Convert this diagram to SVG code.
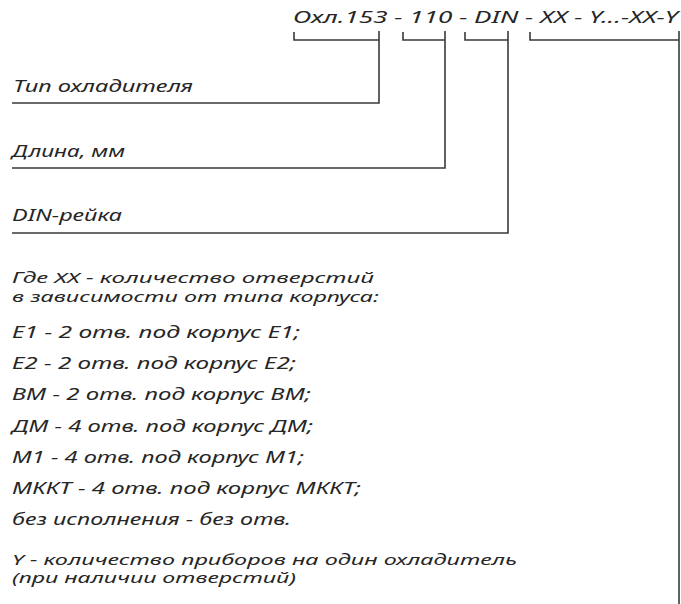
<svg xmlns="http://www.w3.org/2000/svg" width="681" height="604" viewBox="0 0 681 604">
<style>
text{font-family:"Noto Sans","Liberation Sans",Arial,sans-serif;font-style:italic;font-size:16.5px;fill:#262626}
.sm{font-size:15px}
.ln{fill:none;stroke:#3a3a3a;stroke-width:1.6}
</style>
<rect width="681" height="604" fill="#fff"/>
<g id="code"><text x="293" y="23" textLength="385" lengthAdjust="spacingAndGlyphs">Охл.153 - 110 -  DIN - XX - Y...-XX-Y</text></g>
<g id="connectors">
<path class="ln" d="M294,32V40H379M379,31V103H12"/>
<path class="ln" d="M403,32V40H445M445,31V168H12"/>
<path class="ln" d="M465,32V40H508M508,31V233H12"/>
<path class="ln" d="M530,32V40H679M679,31V604"/>
</g>
<g id="type"><text x="13" y="92" textLength="180" lengthAdjust="spacingAndGlyphs">Тип охладителя</text></g>
<g id="length"><text x="12" y="157" textLength="113" lengthAdjust="spacingAndGlyphs">Длина, мм</text></g>
<g id="din"><text x="12" y="221" textLength="110" lengthAdjust="spacingAndGlyphs">DIN-рейка</text></g>
<g id="xx-legend">
<text class="sm" x="12" y="283" textLength="362" lengthAdjust="spacingAndGlyphs">Где XX - количество отверстий</text>
<text class="sm" x="12" y="302" textLength="367" lengthAdjust="spacingAndGlyphs">в зависимости от типа корпуса:</text>
<text x="12" y="338" textLength="288" lengthAdjust="spacingAndGlyphs">Е1 - 2 отв. под корпус Е1;</text>
<text x="12" y="369" textLength="284" lengthAdjust="spacingAndGlyphs">Е2 - 2 отв. под корпус Е2;</text>
<text x="12" y="400" textLength="299" lengthAdjust="spacingAndGlyphs">ВМ - 2 отв. под корпус ВМ;</text>
<text x="12" y="432" textLength="301" lengthAdjust="spacingAndGlyphs">ДМ - 4 отв. под корпус ДМ;</text>
<text x="12" y="463" textLength="292" lengthAdjust="spacingAndGlyphs">М1 - 4 отв. под корпус М1;</text>
<text x="12" y="494" textLength="349" lengthAdjust="spacingAndGlyphs">МККТ - 4 отв. под корпус МККТ;</text>
<text x="12" y="525" textLength="279" lengthAdjust="spacingAndGlyphs">без исполнения - без отв.</text>
</g>
<g id="y-legend">
<text class="sm" x="12" y="565" textLength="505" lengthAdjust="spacingAndGlyphs">Y - количество приборов на один охладитель</text>
<text class="sm" x="12" y="583" textLength="284" lengthAdjust="spacingAndGlyphs">(при наличии отверстий)</text>
</g>
</svg>
